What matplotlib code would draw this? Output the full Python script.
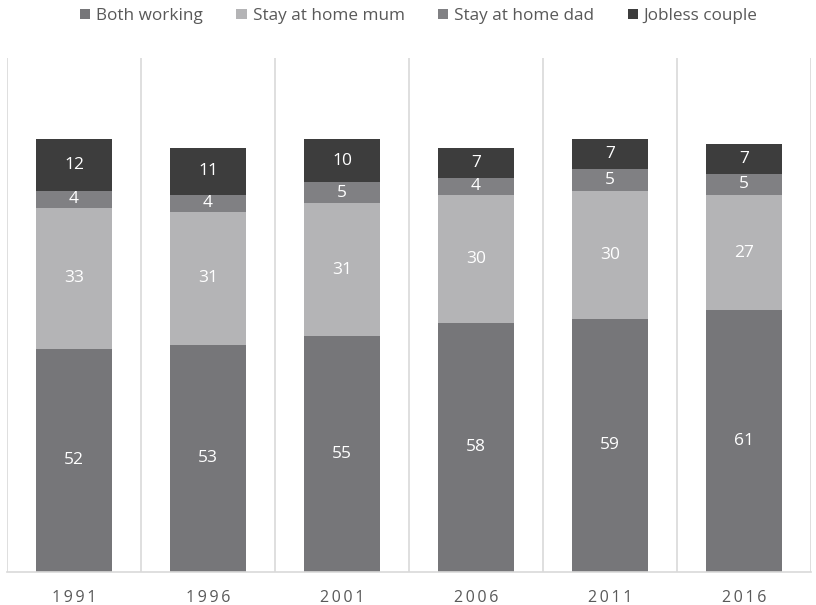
import matplotlib
matplotlib.use("Agg")
import matplotlib.pyplot as plt
import numpy as np

years = ["1991", "1996", "2001", "2006", "2011", "2016"]
both_working = [52, 53, 55, 58, 59, 61]
stay_mum = [33, 31, 31, 30, 30, 27]
stay_dad = [4, 4, 5, 4, 5, 5]
jobless = [12, 11, 10, 7, 7, 7]

series = [
    ("Both working", both_working, "#767679"),
    ("Stay at home mum", stay_mum, "#b4b4b6"),
    ("Stay at home dad", stay_dad, "#808083"),
    ("Jobless couple", jobless, "#3d3d3d"),
]

plt.rcParams['font.family'] = ['Open Sans', 'DejaVu Sans']

fig = plt.figure(figsize=(8.16, 6.05), dpi=100)
ax = fig.add_axes([7/816, 1 - 571.5/605, 804/816, (571.5 - 58)/605])

x = np.arange(len(years))
bottom = np.zeros(len(years))
handles = []
for name, vals, col in series:
    vals = np.array(vals, dtype=float)
    b = ax.bar(x, vals, bottom=bottom, width=0.567, color=col, label=name, zorder=2)
    handles.append(b)
    for xi, v, bt in zip(x, vals, bottom):
        ax.text(xi, bt + v / 2, f"{int(v)}", ha="center", va="center",
                color="white", fontsize=12.5, zorder=3)
    bottom += vals

ax.set_xlim(-0.5, len(years) - 0.5)
ax.set_ylim(0, 120)
ax.set_yticks([])
ax.set_xticks(x)
ax.set_xticklabels(["\u2009".join(y) for y in years], color="#595959", fontsize=11.5)
ax.tick_params(axis="x", length=0, pad=13)
ax.set_xticks(np.arange(-0.5, len(years)), minor=True)
ax.tick_params(axis="x", which="minor", length=0)
ax.grid(axis="x", which="minor", color="#d9d9d9", linewidth=1.2, zorder=0)
ax.grid(axis="x", which="major", visible=False)
for s in ["left", "top", "right"]:
    ax.spines[s].set_visible(False)
ax.spines["bottom"].set_color("#d9d9d9")
ax.spines["bottom"].set_linewidth(1.2)

fig.legend(handles=handles, labels=[s[0] for s in series], loc="center left",
           bbox_to_anchor=(80/816, 1 - 16/605), ncol=4, frameon=False,
           borderpad=0, borderaxespad=0,
           handlelength=0.6, handleheight=0.6, handletextpad=0.35,
           columnspacing=1.95, fontsize=12.3, labelcolor="#595959")

fig.savefig("out.png", dpi=100)
